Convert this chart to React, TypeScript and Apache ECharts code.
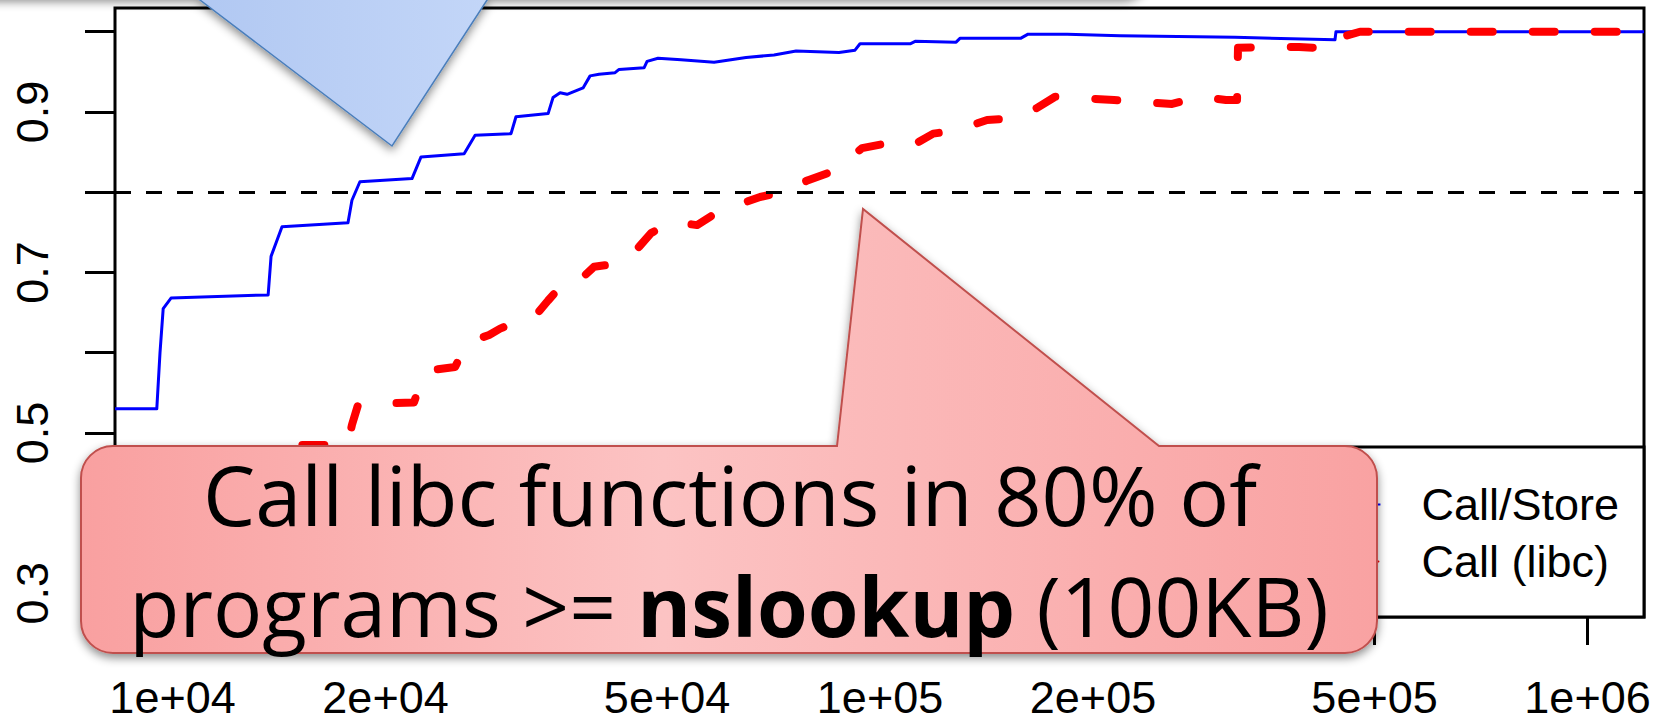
import React, { useEffect, useRef } from "react";
import * as echarts from "echarts";

// ---------- data ----------
const seriesNames = ["Call/Store", "Call (libc)"];
const sizeTicks = [1e4, 2e4, 5e4, 1e5, 2e5, 5e5, 1e6];
const fracTicks = [0.3, 0.4, 0.5, 0.6, 0.7, 0.8, 0.9, 1.0];
const fracLabels = [0.3, 0.5, 0.7, 0.9];
const sizeRange = [8292, 1201800];
const fracRange = [0.2705, 1.0296];
const threshold = 0.8;

const callStoreSize = [
  8292, 9500, 9600, 9700, 9950, 13650, 13780, 14280, 17700, 17930, 18400, 21800,
  22450, 25830, 26770, 30090, 30580, 33950, 34500, 35300, 36110, 38040, 38920,
  40070, 42220, 42770, 46390, 46850, 48550, 52330, 58270, 64660, 70820, 76100,
  87500, 92180, 93690, 110300, 112100, 128100, 129800, 158200, 161900, 183800,
  218400, 317500, 439600, 441000, 1201800,
];
const callStoreFrac = [
  0.53, 0.53, 0.6, 0.655, 0.668, 0.672, 0.72, 0.757, 0.762, 0.79, 0.813, 0.817,
  0.844, 0.848, 0.871, 0.873, 0.894, 0.898, 0.918, 0.924, 0.922, 0.93, 0.945,
  0.947, 0.949, 0.953, 0.955, 0.963, 0.967, 0.965, 0.962, 0.968, 0.971, 0.976,
  0.974, 0.977, 0.985, 0.985, 0.988, 0.987, 0.992, 0.992, 0.997, 0.997,
  0.995, 0.993, 0.99, 1.0, 1.0,
];

const libcSize = [
  8292, 10250, 12060, 13740, 14660, 16430, 17700, 17930, 18290, 20500, 21940,
  22380, 23040, 25080, 25660, 26170, 28020, 29040, 30380, 32650, 33950, 35300,
  36940, 39430, 42490, 44330, 45650, 47460, 50820, 55130, 58850, 62790, 67670,
  72450, 79120, 84450, 89820, 94310, 102300, 111000, 118900, 128100, 141700,
  154700, 166700, 176800, 194900, 214200, 258700, 282500, 308300, 319600,
  320600, 356000, 391100, 436700, 446900, 455700, 476900, 1201800,
];
const libcFrac = [
  0.3, 0.33, 0.4, 0.45, 0.485, 0.485, 0.487, 0.51, 0.535, 0.537, 0.538,
  0.56, 0.578, 0.582, 0.6, 0.613, 0.622, 0.63, 0.637, 0.647, 0.665, 0.682,
  0.684, 0.707, 0.711, 0.72, 0.732, 0.749, 0.763, 0.759, 0.775, 0.784, 0.794,
  0.8, 0.815, 0.824, 0.84, 0.855, 0.861, 0.858, 0.873, 0.877, 0.89,
  0.892, 0.905, 0.919, 0.917, 0.915, 0.91, 0.919, 0.915, 0.915,
  0.98, 0.981, 0.981, 0.979, 0.99, 0.995, 1.0, 1.0,
];

const calloutLine1 = "Call libc functions in 80% of";
const calloutLine2a = "programs >= ";
const calloutLine2b = "nslookup";
const calloutLine2c = " (100KB)";

// ---------- shapes (annotation callouts) ----------
const RED_CALLOUT =
  "M113 446 L837 446 L863 209 L1159 446 L1345 446 C1362.7 446 1377 460.3 1377 478 " +
  "L1377 621 C1377 638.7 1362.7 653 1345 653 L113 653 C95.3 653 81 638.7 81 621 " +
  "L81 478 C81 460.3 95.3 446 113 446 Z";
const BLUE_CALLOUT =
  "M-30 -140 L1150 -140 L1150 -30 C1150 -15 1137 -3 1122 -3 L489 -3 L392 146 L196 -3 L-30 -3 Z";

let shapesRegistered = false;
function registerShapes() {
  if (shapesRegistered) return;
  echarts.graphic.registerShape("redCallout", echarts.graphic.extendPath(RED_CALLOUT, {}));
  echarts.graphic.registerShape("blueCallout", echarts.graphic.extendPath(BLUE_CALLOUT, {}));
  shapesRegistered = true;
}

const FONT = "'Liberation Sans', Arial, sans-serif";

function fmtSci(v: number) {
  const p = Math.pow(10, v);
  const e = Math.floor(Math.log10(p) + 1e-9);
  const m = Math.round(p / Math.pow(10, e));
  return `${m}e+${String(e).padStart(2, "0")}`;
}

export default function App() {
  const ref = useRef<HTMLDivElement>(null);

  useEffect(() => {
    if (!ref.current) return;
    registerShapes();
    const chart = echarts.init(ref.current, undefined, { renderer: "svg" });

    const storeData = callStoreSize.map((s, i) => [Math.log10(s), callStoreFrac[i]]);
    const libcData = libcSize.map((s, i) => [Math.log10(s), libcFrac[i]]);

    chart.setOption({
      animation: false,
      backgroundColor: "#ffffff",
      grid: {
        left: 115,
        right: 22,
        top: 8,
        bottom: 107,
        show: true,
        borderColor: "#000",
        borderWidth: 3,
        backgroundColor: "transparent",
        containLabel: false,
        outerBoundsMode: "none",
      },
      xAxis: {
        type: "value",
        min: Math.log10(sizeRange[0]),
        max: Math.log10(sizeRange[1]),
        splitLine: { show: false },
        axisLine: { show: false },
        axisTick: {
          show: true,
          customValues: sizeTicks.map((v) => Math.log10(v)),
          length: 28,
          lineStyle: { color: "#000", width: 3 },
        },
        axisLabel: {
          customValues: sizeTicks.map((v) => Math.log10(v)),
          formatter: (v: number) => fmtSci(v),
          margin: 59,
          lineHeight: 42,
          fontSize: 45,
          fontFamily: FONT,
          color: "#000",
        },
      },
      yAxis: {
        type: "value",
        min: fracRange[0],
        max: fracRange[1],
        splitLine: { show: false },
        axisLine: { show: false },
        axisTick: {
          show: true,
          customValues: fracTicks,
          length: 30,
          lineStyle: { color: "#000", width: 3 },
        },
        axisLabel: {
          customValues: fracLabels,
          formatter: (v: number) => v.toFixed(1),
          rotate: 90,
          margin: 60,
          fontSize: 45,
          fontFamily: FONT,
          color: "#000",
        },
      },
      legend: {
        orient: "vertical",
        right: 22,
        bottom: 107,
        padding: [35, 25, 33, 160],
        itemGap: 12,
        itemWidth: 24,
        itemHeight: 14,
        backgroundColor: "#ffffff",
        borderColor: "#000",
        borderWidth: 3,
        borderRadius: 0,
        selectedMode: false,
        data: seriesNames,
        textStyle: {
          fontSize: 45,
          fontFamily: FONT,
          color: "#000",
          padding: [0, 0, 0, 36],
        },
      },
      series: [
        {
          name: seriesNames[0],
          type: "line",
          data: storeData,
          symbol: "none",
          showSymbol: false,
          z: 3,
          lineStyle: { color: "#0000ff", width: 3, join: "round" },
          itemStyle: { color: "#0000ff" },
          markLine: {
            silent: true,
            symbol: ["none", "none"],
            label: { show: false },
            lineStyle: { color: "#000", width: 3, type: [16, 15] },
            data: [{ yAxis: threshold }],
          },
        },
        {
          name: seriesNames[1],
          type: "line",
          data: libcData,
          symbol: "none",
          showSymbol: false,
          z: 4,
          lineStyle: { color: "#ff0000", width: 8, type: [22, 40], cap: "round", join: "round" },
          itemStyle: { color: "#ff0000" },
        },
      ],
      graphic: [
        {
          type: "blueCallout",
          z: 100,
          style: {
            fill: new echarts.graphic.LinearGradient(196, 0, 489, 0, [
              { offset: 0, color: "#B1C8F2" },
              { offset: 1, color: "#C3D6F8" },
            ], true),
            stroke: "#4A7EBB",
            lineWidth: 1.5,
            shadowBlur: 10,
            shadowColor: "rgba(0,0,0,0.45)",
            shadowOffsetY: 4,
          },
        },
        {
          type: "redCallout",
          z: 100,
          style: {
            fill: new echarts.graphic.LinearGradient(81, 0, 1377, 0, [
              { offset: 0, color: "#F9A0A0" },
              { offset: 0.45, color: "#FCC3C3" },
              { offset: 1, color: "#F9A2A2" },
            ], true),
            stroke: "#C0504D",
            lineWidth: 2,
            shadowBlur: 10,
            shadowColor: "rgba(0,0,0,0.45)",
            shadowOffsetY: 4,
          },
        },
        {
          type: "text",
          z: 101,
          x: 730,
          y: 493,
          style: {
            text: calloutLine1,
            fontSize: 83,
            fontFamily: "'Open Sans', sans-serif",
            fill: "#000",
            align: "center",
            verticalAlign: "middle",
          },
        },
        {
          type: "text",
          z: 101,
          x: 729,
          y: 605,
          style: {
            text: `{n|${calloutLine2a}}{b|${calloutLine2b}}{n|${calloutLine2c}}`,
            align: "center",
            verticalAlign: "middle",
            rich: {
              n: { fontSize: 82, fontFamily: "'Open Sans', sans-serif", fill: "#000" },
              b: { fontSize: 82, fontFamily: "'Open Sans', sans-serif", fontWeight: "bold", fill: "#000" },
            },
          },
        },
      ],
    });

    return () => chart.dispose();
  }, []);

  return (
    <div
      ref={ref}
      style={{ position: "fixed", left: 0, top: 0, width: 1666, height: 724, background: "#fff" }}
    />
  );
}
